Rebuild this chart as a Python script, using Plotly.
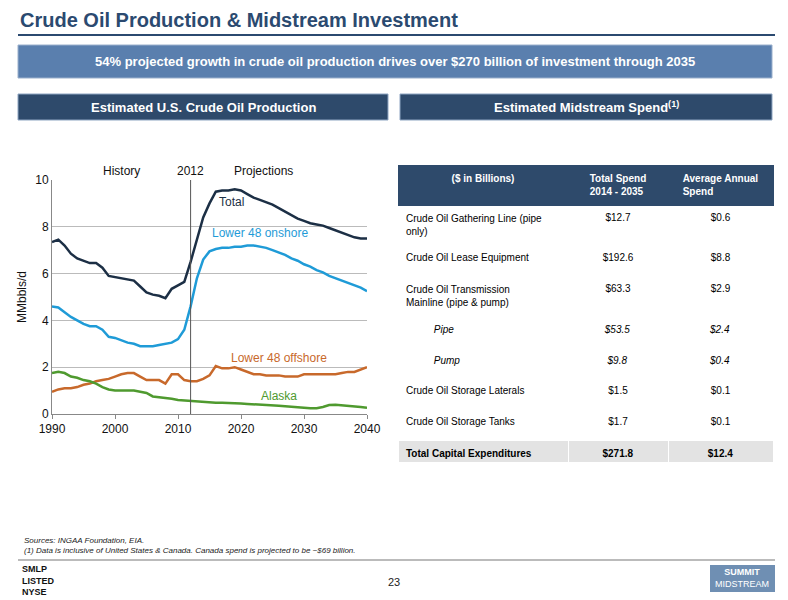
import plotly.graph_objects as go

years = list(range(1990, 2041))
total = [7.35, 7.45, 7.2, 6.85, 6.65, 6.55, 6.45, 6.45, 6.25, 5.9, 5.85, 5.8, 5.75, 5.7, 5.45, 5.2, 5.1, 5.05,
         4.95, 5.35, 5.5, 5.65, 6.5, 7.5, 8.4, 9.0, 9.5, 9.55, 9.55, 9.6, 9.55, 9.4, 9.25, 9.15, 9.05, 8.95,
         8.8, 8.65, 8.5, 8.35, 8.25, 8.15, 8.1, 8.05, 7.95, 7.85, 7.75, 7.65, 7.55, 7.5, 7.5]
onshore = [4.6, 4.55, 4.35, 4.15, 4.0, 3.85, 3.75, 3.75, 3.6, 3.3, 3.25, 3.15, 3.05, 3.0, 2.9, 2.9, 2.9, 2.95,
           3.0, 3.05, 3.2, 3.6, 4.6, 5.8, 6.6, 6.95, 7.05, 7.1, 7.1, 7.15, 7.15, 7.2, 7.2, 7.15, 7.1, 7.0,
           6.9, 6.8, 6.65, 6.55, 6.4, 6.3, 6.15, 6.05, 5.9, 5.8, 5.7, 5.6, 5.5, 5.4, 5.25]
offshore = [0.95, 1.05, 1.1, 1.1, 1.15, 1.25, 1.3, 1.4, 1.45, 1.5, 1.6, 1.7, 1.75, 1.75, 1.6, 1.45, 1.45, 1.45,
            1.3, 1.7, 1.7, 1.45, 1.4, 1.4, 1.5, 1.65, 2.05, 1.95, 1.95, 2.0, 1.9, 1.8, 1.7, 1.7, 1.65, 1.65,
            1.65, 1.6, 1.6, 1.6, 1.7, 1.7, 1.7, 1.7, 1.7, 1.7, 1.75, 1.8, 1.8, 1.9, 2.0]
alaska = [1.75, 1.8, 1.75, 1.6, 1.55, 1.45, 1.4, 1.3, 1.15, 1.05, 1.0, 1.0, 1.0, 1.0, 0.95, 0.9, 0.75, 0.72,
          0.7, 0.65, 0.6, 0.58, 0.55, 0.52, 0.5, 0.48, 0.48, 0.48, 0.48, 0.47, 0.45, 0.43, 0.42, 0.4, 0.38,
          0.37, 0.35, 0.33, 0.3, 0.28, 0.27, 0.25, 0.25, 0.3, 0.38, 0.4, 0.38, 0.36, 0.35, 0.3, 0.27]

categories = ["Crude Oil Gathering Line (pipe<br>only)", "Crude Oil Lease Equipment",
              "Crude Oil Transmission<br>Mainline (pipe & pump)", "<i>          Pipe</i>", "<i>          Pump</i>",
              "Crude Oil Storage Laterals", "Crude Oil Storage Tanks", "<b>Total Capital Expenditures</b>"]
total_spend = ["$12.7", "$192.6", "$63.3", "<i>$53.5</i>", "<i>$9.8</i>", "$1.5", "$1.7", "<b>$271.8</b>"]
annual_spend = ["$0.6", "$8.8", "$2.9", "<i>$2.4</i>", "<i>$0.4</i>", "$0.1", "$0.1", "<b>$12.4</b>"]

W, H = 788, 600
OFF = 8  # page margin of the browser
def px(x): return (x - OFF) / W
def py(y): return 1 - (y - OFF) / H

def note(x, y, text, size, color, xanchor="center", **kw):
    fig.add_annotation(x=px(x), y=py(y), xref="paper", yref="paper", showarrow=False, xanchor=xanchor,
                       yanchor="middle", text=text, font=dict(size=size, color=color), **kw)

fig = go.Figure()
series = [(total, "#1c2f45", "Total", 2018.5, 9.05),
          (onshore, "#1f9bd7", "Lower 48 onshore", 2023, 7.75),
          (offshore, "#c8692b", "Lower 48 offshore", 2026, 2.4),
          (alaska, "#4f9a2f", "Alaska", 2026, 0.75)]
for vals, color, name, lx, ly in series:
    fig.add_trace(go.Scatter(x=years, y=vals, mode="lines", line=dict(color=color, width=2.5),
                             showlegend=False, hoverinfo="skip"))
    fig.add_annotation(x=lx, y=ly, text=name, showarrow=False, xref="x", yref="y", yanchor="middle",
                       font=dict(color=color, size=12))

fig.add_shape(type="line", x0=2012, x1=2012, y0=0, y1=10.3, xref="x", yref="y",
              line=dict(color="#555", width=1))
for t, x in [("History", 2001), ("2012", 2012), ("Projections", 2023.5)]:
    fig.add_annotation(x=x, y=1.0, text=t, showarrow=False, xref="x", yref="y domain",
                       yanchor="bottom", font=dict(size=12, color="#111"))

fig.add_trace(go.Table(
    domain=dict(x=[px(398), px(773)], y=[py(462), py(165)]),
    columnwidth=[170, 100, 105],
    header=dict(values=["<b>($ in Billions)</b>", "<b>Total Spend<br>2014 - 2035</b>", "<b>Average Annual<br>Spend</b>"],
                fill_color="#2e4a6b", font=dict(color="white", size=10), height=36,
                align="center", line_color="#2e4a6b"),
    cells=dict(values=[categories, total_spend, annual_spend],
               fill_color=[["white"] * 7 + ["#e3e3e3"]] * 3, font=dict(color="black", size=10),
               height=31, align=["left", "center", "center"], line_color="white")))

# slide decorations
note(18, 20, "<b>Crude Oil Production & Midstream Investment</b>", 20, "#2b4a70", xanchor="left")
fig.add_shape(type="line", xref="paper", yref="paper", x0=px(18), x1=px(775), y0=py(35), y1=py(35),
              line=dict(color="#2b4a70", width=2))
fig.add_shape(type="rect", xref="paper", yref="paper", x0=px(18), x1=px(772), y0=py(78), y1=py(45),
              fillcolor="#5a7fae", line=dict(color="#9ab0cc", width=1))
note(395, 61, "<b>54% projected growth in crude oil production drives over $270 billion of investment through 2035</b>",
     13, "white")
for x0, x1, txt in [(18, 388, "<b>Estimated U.S. Crude Oil Production</b>"),
                    (400, 772, "<b>Estimated Midstream Spend<sup>(1)</sup></b>")]:
    fig.add_shape(type="rect", xref="paper", yref="paper", x0=px(x0), x1=px(x1), y0=py(120), y1=py(94),
                  fillcolor="#2e4a6b", line=dict(color="#8ea5c2", width=1))
    note((x0 + x1) / 2, 107, txt, 13, "white")
note(22, 545, "<i>Sources: INGAA Foundation, EIA.<br>(1) Data is inclusive of United States & Canada. "
              "Canada spend is projected to be ~$69 billion.</i>", 8, "#222", xanchor="left", align="left")
fig.add_shape(type="line", xref="paper", yref="paper", x0=px(18), x1=px(775), y0=py(560), y1=py(560),
              line=dict(color="#bbb", width=2))
note(394, 582, "23", 11, "#222")
note(20, 580, "<b>SMLP<br>LISTED<br>NYSE</b>", 9, "#111", xanchor="left", align="left")
fig.add_shape(type="rect", xref="paper", yref="paper", x0=px(710), x1=px(775), y0=py(592), y1=py(565),
              fillcolor="#6f8fb3", line_width=0)
note(742, 578, "<b>SUMMIT</b><br>MIDSTREAM", 9, "white")

fig.update_layout(
    width=W, height=H, margin=dict(l=0, r=0, t=0, b=0, autoexpand=False), paper_bgcolor="white",
    plot_bgcolor="white",
    font=dict(family="Liberation Sans, Arial, sans-serif"),
    xaxis=dict(domain=[px(52), px(367)], range=[1990, 2040], tickvals=[1990, 2000, 2010, 2020, 2030, 2040],
               showgrid=False, showline=True, linecolor="#888", ticks="outside", ticklen=4, tickcolor="#888",
               tickfont=dict(size=12, color="#111"), automargin=False),
    yaxis=dict(domain=[py(414), py(180)], range=[0, 10], tickvals=[0, 2, 4, 6, 8, 10], showgrid=True,
               gridcolor="#bbb", showline=True, linecolor="#888", zeroline=False, automargin=False,
               tickfont=dict(size=12, color="#111"),
               title=dict(text="MMbbls/d", font=dict(size=12, color="#111"), standoff=6)),
)
fig.write_html("out.html")
